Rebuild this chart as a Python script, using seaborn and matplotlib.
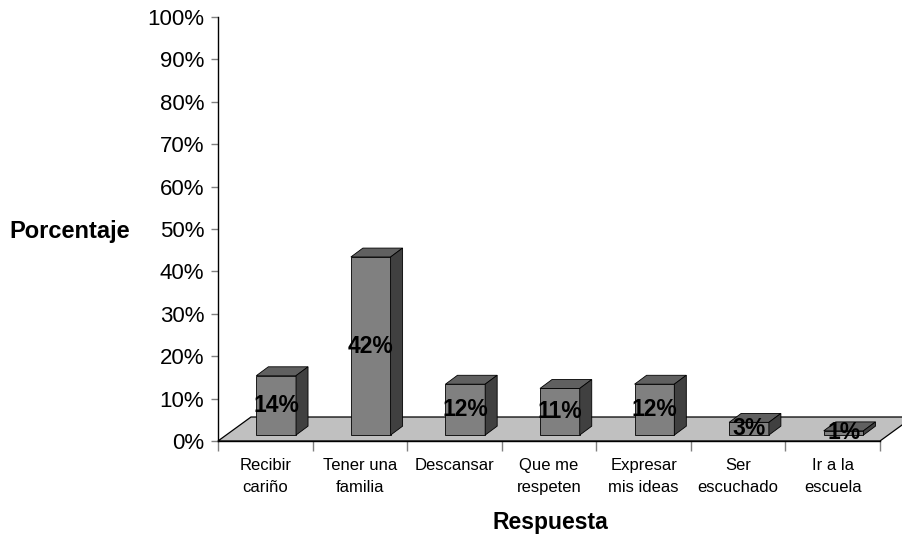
import numpy as np
import pandas as pd
import matplotlib
matplotlib.use("Agg")
import matplotlib.pyplot as plt
from matplotlib.patches import Polygon
import seaborn as sns

# data
categories = ["Recibir\ncariño", "Tener una\nfamilia", "Descansar", "Que me\nrespeten",
              "Expresar\nmis ideas", "Ser\nescuchado", "Ir a la\nescuela"]
values = [14, 42, 12, 11, 12, 3, 1]
y_ticks = list(range(0, 101, 10))

df = pd.DataFrame({"Respuesta": categories, "Porcentaje": values})

sns.set_theme(style="white")
plt.rcParams["font.family"] = ["Liberation Sans", "DejaVu Sans"]
plt.rcParams["text.color"] = "black"
plt.rcParams["axes.labelcolor"] = "black"
plt.rcParams["xtick.labelcolor"] = "black"
plt.rcParams["ytick.labelcolor"] = "black"

fig = plt.figure(figsize=(9.03, 5.38), dpi=100)
ax = fig.add_axes([218 / 903, 1 - 441 / 538, 662 / 903, 424 / 538])

# pseudo-3d settings (data units)
bar_w = 0.42
shift_x = 0.115     # bars sit inside the floor
base_y = 1.4
dx, dy = 0.127, 2.1  # bar depth
fdx, fdy = 0.349, 5.66  # floor depth

# front faces
sns.barplot(data=df, x="Respuesta", y="Porcentaje", ax=ax, width=bar_w,
            color="#808080", saturation=1, edgecolor="black", linewidth=0.6,
            zorder=3)
bars = list(ax.containers[0])

# floor
floor = Polygon([(-0.5, 0), (6.5, 0), (6.5 + fdx, fdy), (-0.5 + fdx, fdy)],
                closed=True, facecolor="#c0c0c0", edgecolor="black", lw=0.9,
                zorder=1, clip_on=False)
ax.add_patch(floor)

for p, v in zip(bars, values):
    p.set_x(p.get_x() + shift_x)
    p.set_y(base_y)
    x0 = p.get_x()
    x1 = x0 + p.get_width()
    top = base_y + p.get_height()
    top_face = Polygon([(x0, top), (x1, top), (x1 + dx, top + dy), (x0 + dx, top + dy)],
                       closed=True, facecolor="#606060", edgecolor="black", lw=0.6,
                       zorder=3, clip_on=False)
    side_face = Polygon([(x1, base_y), (x1 + dx, base_y + dy), (x1 + dx, top + dy), (x1, top)],
                        closed=True, facecolor="#404040", edgecolor="black", lw=0.6,
                        zorder=3, clip_on=False)
    ax.add_patch(top_face)
    ax.add_patch(side_face)
    ax.text(x0 + p.get_width() / 2, base_y + v / 2, f"{v}%", ha="center", va="center",
            fontsize=16.5, fontweight="bold", color="black", zorder=5)

ax.set_xlim(-0.5, 6.5)
ax.set_ylim(0, 100)
ax.set_yticks(y_ticks)
ax.set_yticklabels([f"{t}%" for t in y_ticks], fontsize=16)
ax.tick_params(axis="y", left=True, length=5, width=1, color="#808080", pad=5)

ax.set_xticks(range(len(categories)))
ax.set_xticklabels(categories, fontsize=12, linespacing=1.55)
ax.set_xticks(np.arange(-0.5, 7, 1), minor=True)
ax.tick_params(axis="x", which="major", length=0, pad=12.5)
ax.tick_params(axis="x", which="minor", bottom=True, length=7, width=1, color="#808080")

for s in ["top", "right"]:
    ax.spines[s].set_visible(False)
ax.spines["left"].set_color("black")
ax.spines["left"].set_linewidth(1)
ax.spines["bottom"].set_color("black")
ax.spines["bottom"].set_linewidth(1)

ax.set_ylabel("Porcentaje", rotation=0, fontsize=17, fontweight="bold", ha="center", va="center")
ax.yaxis.set_label_coords(-0.2236, 0.493)
ax.set_xlabel("Respuesta", fontsize=16.5, fontweight="bold", ha="center", va="center")
ax.xaxis.set_label_coords(0.5015, -0.193)

fig.savefig("out.png", dpi=100)
